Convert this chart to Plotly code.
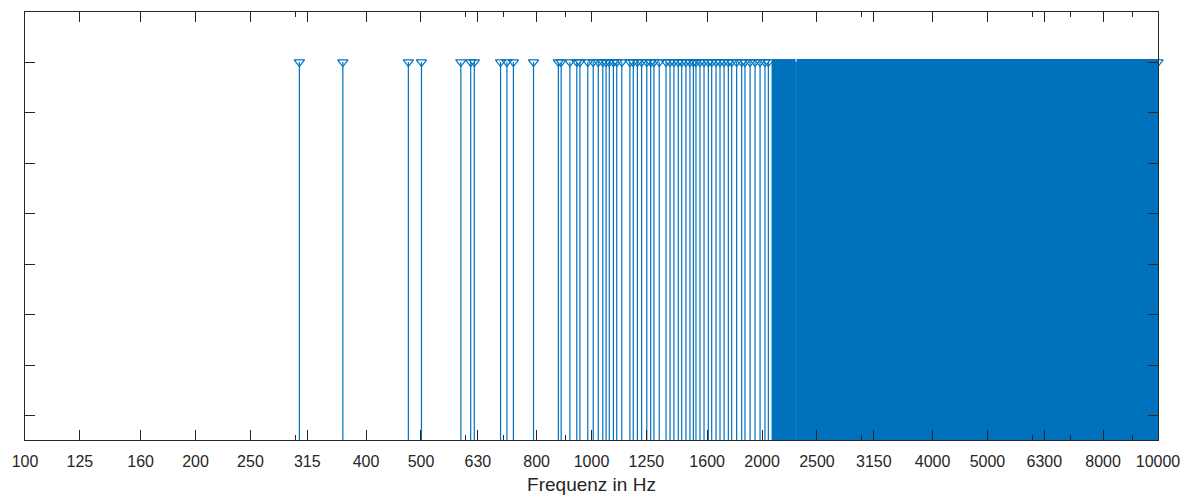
import plotly.graph_objects as go

# Individual resonance frequencies (Hz)
freqs = [305, 364, 475, 501, 588, 612, 621, 691, 709, 728, 790,
         874, 884, 916, 942, 954, 985, 1007, 1028,
         1047, 1061, 1075, 1093, 1108, 1131, 1169, 1185, 1205, 1226,
         1252, 1272, 1289, 1317, 1354, 1376, 1398, 1423, 1443, 1468,
         1492, 1513, 1529, 1554, 1580, 1608, 1630, 1659, 1686, 1714,
         1744, 1768, 1804, 1841, 1866, 1905, 1944, 1984, 2024, 2052]
amplitude = 1.0

# Frequency ranges where stems are so dense they merge into a solid area (Hz)
dense_bands = [(2083, 2292), (2302, 10000)]

tick_vals = [100, 125, 160, 200, 250, 315, 400, 500, 630, 800, 1000, 1250,
             1600, 2000, 2500, 3150, 4000, 5000, 6300, 8000, 10000]
tick_text = [str(v) for v in tick_vals]
minor_vals = [200, 300, 400, 500, 600, 700, 800, 900,
              2000, 3000, 4000, 5000, 6000, 7000, 8000, 9000]
y_ticks = [0.3, 0.4, 0.5, 0.6, 0.7, 0.8, 0.9, 1.0]

BLUE = "#0072BD"
AX = "#262626"

fig = go.Figure()

# dense bands as filled areas
for lo, hi in dense_bands:
    fig.add_trace(go.Scatter(
        x=[lo, lo, hi, hi, lo], y=[0, amplitude, amplitude, 0, 0],
        fill="toself", fillcolor=BLUE, mode="lines",
        line=dict(color=BLUE, width=1), hoverinfo="skip", showlegend=False))
    # overlapping marker row at the top of the band
    fig.add_trace(go.Scatter(
        x=[lo, hi], y=[amplitude, amplitude], mode="lines",
        line=dict(color=BLUE, width=6), hoverinfo="skip", showlegend=False))

# stems
sx, sy = [], []
for f in freqs:
    sx += [f, f, None]
    sy += [0, amplitude, None]
fig.add_trace(go.Scatter(x=sx, y=sy, mode="lines",
                         line=dict(color=BLUE, width=1.2),
                         hoverinfo="skip", showlegend=False))

# markers
mx = freqs + [hi for lo, hi in dense_bands[-1:]]
fig.add_trace(go.Scatter(x=mx, y=[amplitude] * len(mx), mode="markers",
                         marker=dict(symbol="triangle-down-open", size=9,
                                     color=BLUE, line=dict(color=BLUE, width=1.2)),
                         cliponaxis=False, showlegend=False))

fig.update_layout(
    width=1192, height=495,
    margin=dict(l=25, r=34, t=12, b=55),
    paper_bgcolor="white", plot_bgcolor="white",
    font=dict(family="Liberation Sans, Arial, sans-serif", size=16, color=AX),
    showlegend=False,
)
fig.update_xaxes(
    type="log", range=[2, 4], automargin=False,
    tickmode="array", tickvals=tick_vals, ticktext=tick_text,
    ticks="inside", ticklen=10, tickwidth=1, tickcolor=AX,
    ticklabelstandoff=7,
    minor=dict(tickmode="array", tickvals=minor_vals, ticks="inside",
               ticklen=5, tickwidth=1, tickcolor=AX),
    showline=True, linecolor=AX, linewidth=1, mirror="ticks",
    showgrid=False, zeroline=False,
    title=dict(text="Frequenz in Hz", standoff=14),
    tickfont=dict(size=16),
)
fig.update_yaxes(
    range=[0.2525, 1.099], automargin=False,
    tickmode="array", tickvals=y_ticks, showticklabels=False,
    ticks="inside", ticklen=10, tickwidth=1, tickcolor=AX,
    showline=True, linecolor=AX, linewidth=1, mirror="ticks",
    showgrid=False, zeroline=False,
)

fig.write_html("out.html")
